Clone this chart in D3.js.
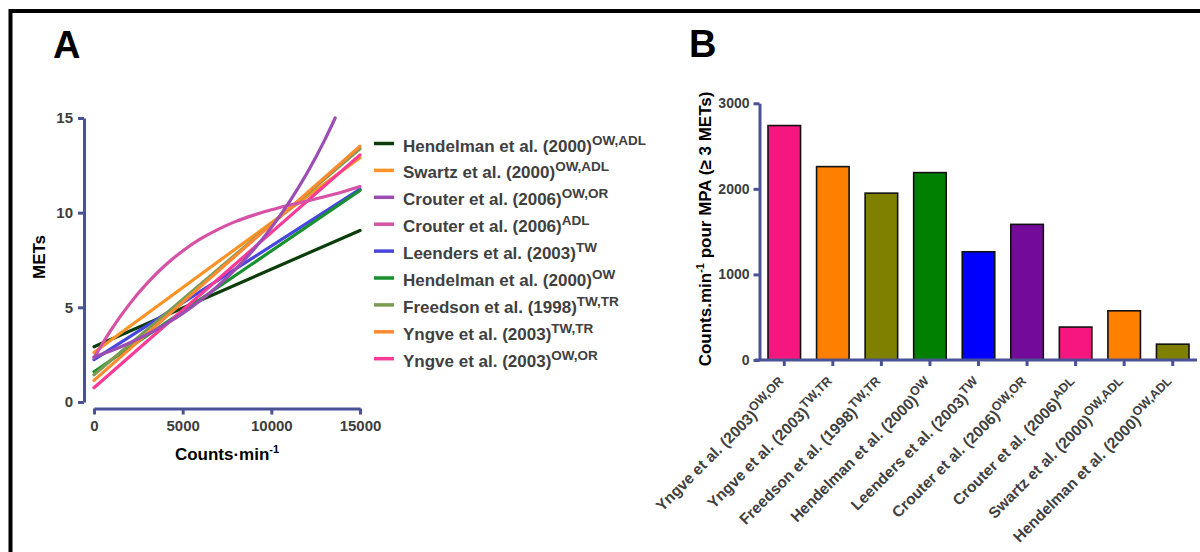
<!DOCTYPE html>
<html>
<head>
<meta charset="utf-8">
<script src="https://cdn.jsdelivr.net/npm/d3@7"></script>
<style>
  html, body { margin: 0; padding: 0; background: #fff; }
  svg { display: block; font-family: Arial, "Liberation Sans", sans-serif; font-weight: bold; }
</style>
</head>
<body>
<svg id="chart" width="1200" height="552"></svg>
<script>
// ---------- Panel A data ----------
const legendNames = [
  "Hendelman et al. (2000)", "Swartz et al. (2000)", "Crouter et al. (2006)", "Crouter et al. (2006)",
  "Leenders et al. (2003)", "Hendelman et al. (2000)", "Freedson et al. (1998)", "Yngve et al. (2003)", "Yngve et al. (2003)"
];
const legendSups = ["OW,ADL", "OW,ADL", "OW,OR", "ADL", "TW", "OW", "TW,TR", "TW,TR", "OW,OR"];
const lineColors = ["#0b3d0b", "#ff9326", "#9b4db3", "#d652a6", "#4747e0", "#17912f", "#7b9a52", "#ff8a30", "#ff3a96"];

const countsLinear = [0, 15000];
const hendelmanADL = [2.92, 9.06];
const swartzADL = [2.61, 12.90];
const leendersTW = [2.24, 11.24];
const hendelmanOW = [1.60, 11.17];
const freedsonTW = [1.44, 13.37];
const yngveTW = [1.14, 13.51];
const yngveOW = [0.75, 13.05];

const countsCurve = [0, 1000, 2000, 3000, 4000, 5000, 6000, 7000, 8000, 9000, 10000, 11000, 12000, 13000, 14000, 15000];
const crouterADL = [2.33, 3.86, 5.17, 6.28, 7.21, 7.98, 8.61, 9.12, 9.54, 9.87, 10.15, 10.39, 10.61, 10.84, 11.09, 11.38];

const countsExp = [0, 1000, 2000, 3000, 4000, 5000, 6000, 7000, 8000, 9000, 10000, 11000, 12000, 13000, 13600];
const crouterOW = [2.38, 2.72, 3.12, 3.57, 4.09, 4.68, 5.36, 6.14, 7.03, 8.05, 9.21, 10.55, 12.07, 13.82, 15.0];

const xTicksA = [0, 5000, 10000, 15000];
const yTicksA = [0, 5, 10, 15];

// ---------- Panel B data ----------
const barNames = [
  "Yngve et al. (2003)", "Yngve et al. (2003)", "Freedson et al. (1998)", "Hendelman et al. (2000)",
  "Leenders et al. (2003)", "Crouter et al. (2006)", "Crouter et al. (2006)", "Swartz et al. (2000)", "Hendelman et al. (2000)"
];
const barSups = ["OW,OR", "TW,TR", "TW,TR", "OW", "TW", "OW,OR", "ADL", "OW,ADL", "OW,ADL"];
const barValues = [2740, 2260, 1950, 2190, 1265, 1585, 385, 575, 185];
const barColors = ["#f5177f", "#ff8000", "#808000", "#008000", "#0000ff", "#740a99", "#f5177f", "#ff8000", "#808000"];
const yTicksB = [0, 1000, 2000, 3000];

// ---------- drawing ----------
const svg = d3.select("#chart");
const axisColor = "#4a5296";
const tickText = "#3d3d3d";
const FONT = "Arial, Liberation Sans, sans-serif";

// frame
svg.append("path").attr("d", "M10.5,560V11H1210").attr("fill", "none").attr("stroke", "#000").attr("stroke-width", 4);

// panel letters
svg.append("text").attr("x", 53).attr("y", 58).attr("font-size", 38).attr("fill", "#000").text("A");
svg.append("text").attr("x", 689).attr("y", 57).attr("font-size", 38).attr("fill", "#000").text("B");

// ===== Panel A =====
const xA = d3.scaleLinear().domain([0, 15000]).range([94, 360]);
const yA = d3.scaleLinear().domain([0, 15]).range([402, 118]);

const seriesA = [
  {x: countsLinear, y: hendelmanADL},
  {x: countsLinear, y: swartzADL},
  {x: countsExp, y: crouterOW},
  {x: countsCurve, y: crouterADL},
  {x: countsLinear, y: leendersTW},
  {x: countsLinear, y: hendelmanOW},
  {x: countsLinear, y: freedsonTW},
  {x: countsLinear, y: yngveTW},
  {x: countsLinear, y: yngveOW}
];

const lineGen = d3.line().x(d => xA(d[0])).y(d => yA(d[1])).curve(d3.curveMonotoneX);
const drawOrder = [0, 1, 4, 5, 6, 7, 8, 3, 2];
drawOrder.forEach(i => {
  const s = seriesA[i];
  const pts = s.x.map((v, k) => [v, s.y[k]]);
  svg.append("path").attr("d", lineGen(pts)).attr("fill", "none")
    .attr("stroke", lineColors[i]).attr("stroke-width", 3.2).attr("stroke-linecap", "round");
});

// y axis A
const gyA = svg.append("g").attr("transform", "translate(84,0)")
  .call(d3.axisLeft(yA).tickValues(yTicksA).tickSize(6).tickPadding(5).tickSizeOuter(0));
// x axis A
const gxA = svg.append("g").attr("transform", "translate(0,408.5)")
  .call(d3.axisBottom(xA).tickValues(xTicksA).tickSize(6).tickPadding(6).tickFormat(d3.format("d")).tickSizeOuter(0));
[gyA, gxA].forEach(g => {
  g.select(".domain").attr("stroke", axisColor).attr("stroke-width", 3);
  g.selectAll(".tick line").attr("stroke", axisColor).attr("stroke-width", 3);
  g.selectAll(".tick text").attr("fill", tickText).attr("font-size", 15).attr("font-weight", "bold")
    .attr("font-family", FONT);
});

// axis titles A
const xt = svg.append("text").attr("x", 227).attr("y", 460).attr("text-anchor", "middle").attr("font-size", 17).attr("fill", "#000");
xt.append("tspan").text("Counts·min");
xt.append("tspan").attr("dy", -7).attr("font-size", 11).text("-1");
svg.append("text").attr("transform", "translate(45,257) rotate(-90)").attr("text-anchor", "middle")
  .attr("font-size", 17).attr("fill", "#000").text("METs");

// legend A
legendNames.forEach((name, i) => {
  const y = 143.5 + i * 26.9;
  svg.append("line").attr("x1", 374).attr("x2", 394).attr("y1", y).attr("y2", y)
    .attr("stroke", lineColors[i]).attr("stroke-width", 3.5);
  const t = svg.append("text").attr("x", 403).attr("y", y + 8).attr("font-size", 17).attr("fill", "#404040");
  t.append("tspan").text(name);
  t.append("tspan").attr("dy", -7).attr("font-size", 13.5).text(legendSups[i]);
});

// ===== Panel B =====
const xB = d3.scaleBand().domain(d3.range(barValues.length)).range([760, 1197]).paddingInner(0.33).paddingOuter(0.165);
const yB = d3.scaleLinear().domain([0, 3000]).range([360, 103.3]);

svg.append("g").selectAll("rect").data(barValues).join("rect")
  .attr("x", (d, i) => xB(i)).attr("width", xB.bandwidth())
  .attr("y", d => yB(d)).attr("height", d => yB(0) - yB(d))
  .attr("fill", (d, i) => barColors[i]).attr("stroke", "#111").attr("stroke-width", 1.6);

const gyB = svg.append("g").attr("transform", "translate(759.5,0)")
  .call(d3.axisLeft(yB).tickValues(yTicksB).tickSize(6).tickPadding(4).tickSizeOuter(0).tickFormat(d3.format("d")));
const gxB = svg.append("g").attr("transform", "translate(0,360)")
  .call(d3.axisBottom(xB).tickSize(6).tickSizeOuter(0).tickFormat(""));
gxB.select(".domain").attr("d", "M755,0H1197");
[gyB, gxB].forEach(g => {
  g.select(".domain").attr("stroke", axisColor).attr("stroke-width", 3);
  g.selectAll(".tick line").attr("stroke", axisColor).attr("stroke-width", 3);
  g.selectAll(".tick text").attr("fill", tickText).attr("font-size", 14).attr("font-weight", "bold")
    .attr("font-family", FONT);
});

// rotated category labels
barNames.forEach((name, i) => {
  const cx = xB(i) + xB.bandwidth() / 2;
  const t = svg.append("text").attr("transform", `translate(${cx + 4},${386}) rotate(-45)`)
    .attr("text-anchor", "end").attr("font-size", 15.5).attr("fill", "#404040");
  t.append("tspan").text(name);
  t.append("tspan").attr("dy", -6).attr("font-size", 12.5).text(barSups[i]);
});

// y title B
const yt = svg.append("text").attr("transform", "translate(711,229) rotate(-90)").attr("text-anchor", "middle")
  .attr("font-size", 17).attr("fill", "#000");
yt.append("tspan").text("Counts.min");
yt.append("tspan").attr("dy", -7).attr("font-size", 11).text("-1");
yt.append("tspan").attr("dy", 7).text(" pour MPA (≥ 3 METs)");
</script>
</body>
</html>
